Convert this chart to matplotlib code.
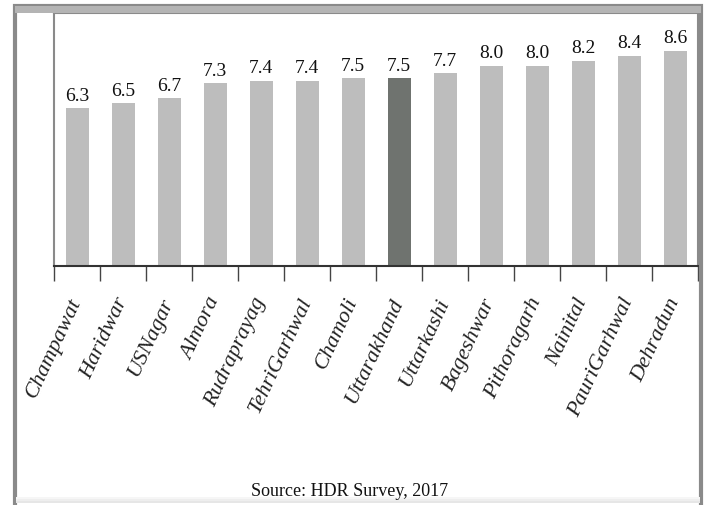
import matplotlib
matplotlib.use('Agg')
import matplotlib.pyplot as plt
from matplotlib.patches import Rectangle
import numpy as np

# Data
districts = ['Champawat', 'Haridwar', 'USNagar', 'Almora', 'Rudraprayag',
             'TehriGarhwal', 'Chamoli', 'Uttarakhand', 'Uttarkashi', 'Bageshwar',
             'Pithoragarh', 'Nainital', 'PauriGarhwal', 'Dehradun']
values = [6.3, 6.5, 6.7, 7.3, 7.4, 7.4, 7.5, 7.5, 7.7, 8.0, 8.0, 8.2, 8.4, 8.6]
highlight = 'Uttarakhand'
source_text = 'Source: HDR Survey, 2017'

plt.rcParams['font.family'] = ['Liberation Serif', 'DejaVu Serif']

W, H = 707, 506
fig = plt.figure(figsize=(W / 100, H / 100), dpi=100)

# Outer frame (grey bevelled border)
fig.add_artist(Rectangle((15 / W, -0.01), (701 - 15) / W, (H - 7) / H + 0.01,
                         transform=fig.transFigure, fill=False,
                         edgecolor='#8a8a8a', lw=3))
fig.add_artist(Rectangle((15 / W, 1 - 14 / H), (701 - 15) / W, 7 / H,
                         transform=fig.transFigure, facecolor='#b4b4b4',
                         edgecolor='none'))
for i, c in enumerate(['#f6f6f6', '#eeeeee', '#e6e6e6']):
    fig.add_artist(Rectangle((16 / W, (6 - 2 * i) / H), (700 - 16) / W, 2 / H,
                             transform=fig.transFigure, facecolor=c,
                             edgecolor='none'))

ax = fig.add_axes([54 / W, 1 - 267 / H, (698 - 54) / W, (267 - 14) / H])

x = np.arange(len(districts))
colors = ['#6f736f' if d == highlight else '#bdbdbd' for d in districts]
bars = ax.bar(x, values, width=0.5, color=colors)
ax.bar_label(bars, labels=['%.1f' % v for v in values], padding=3,
             fontsize=14, color='#111111')

ax.set_xlim(-0.5, len(districts) - 0.5)
ax.set_ylim(0, 10.1)
ax.set_yticks([])

ax.set_xticks(x)
ax.set_xticklabels(districts, rotation=65, ha='right', va='center',
                   rotation_mode='anchor', fontsize=16, style='italic',
                   color='#222222')
ax.tick_params(axis='x', which='major', length=0, pad=23)
ax.set_xticks(np.arange(-0.5, len(districts)), minor=True)
ax.tick_params(axis='x', which='minor', length=11, width=1, color='#444444',
               direction='out')

for side in ['left', 'top', 'right']:
    ax.spines[side].set_color('#8a8a8a')
    ax.spines[side].set_linewidth(1.5)
ax.spines['bottom'].set_color('#333333')
ax.spines['bottom'].set_linewidth(1.5)

fig.text(350 / W, 1 - 492 / H, source_text, ha='center', va='center',
         fontsize=13, color='#111111')

plt.savefig('out.png', dpi=100)
plt.close()
